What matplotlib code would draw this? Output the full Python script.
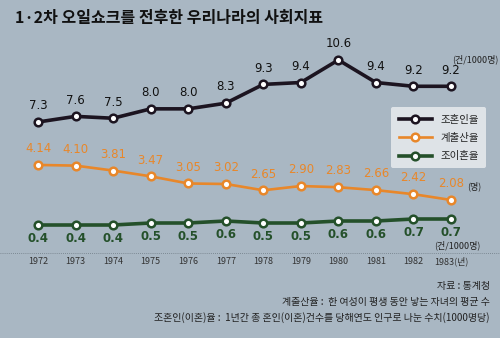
import matplotlib.pyplot as plt

plt.rcParams['font.family'] = ['Noto Sans CJK KR', 'DejaVu Sans']

years = [1972, 1973, 1974, 1975, 1976, 1977, 1978, 1979, 1980, 1981, 1982, 1983]
year_labels = ['1972', '1973', '1974', '1975', '1976', '1977', '1978', '1979',
               '1980', '1981', '1982', '1983(년)']
marriage = [7.3, 7.6, 7.5, 8.0, 8.0, 8.3, 9.3, 9.4, 10.6, 9.4, 9.2, 9.2]
fertility = [4.14, 4.10, 3.81, 3.47, 3.05, 3.02, 2.65, 2.90, 2.83, 2.66, 2.42, 2.08]
divorce = [0.4, 0.4, 0.4, 0.5, 0.5, 0.6, 0.5, 0.5, 0.6, 0.6, 0.7, 0.7]

bg = '#a9b7c3'
c_black = '#1c1420'
c_orange = '#e8872a'
c_green = '#24502a'

fig = plt.figure(figsize=(5, 3.38), dpi=100)
fig.patch.set_facecolor(bg)

rect = [20 / 500, (338 - 235) / 338, 450 / 500, 185 / 338]
xlim = (1971.52, 1983.506)

series = [
    (marriage, c_black, (1.29, 11.13), 2.6, 'above', '{:.1f}'),
    (fertility, c_orange, (0.02, 10.9), 1.9, 'above', '{:.2f}'),
    (divorce, c_green, (-0.1, 9.15), 2.6, 'below', '{:.1f}'),
]
labels = ['조혼인율', '계출산율', '조이혼율']

handles = []
for i, (vals, col, ylim, lw, pos, fmt) in enumerate(series):
    ax = fig.add_axes(rect, label=f's{i}')
    ax.set_xlim(*xlim)
    ax.set_ylim(*ylim)
    ax.axis('off')
    ax.patch.set_alpha(0)
    ln, = ax.plot(years, vals, color=col, lw=lw, marker='o', ms=5.5,
                  mfc='white', mec=col, mew=1.8, zorder=3)
    handles.append(ln)
    for x, v in zip(years, vals):
        if pos == 'above':
            ax.annotate(fmt.format(v), (x, v), xytext=(0, 7), textcoords='offset points',
                        ha='center', va='bottom', fontsize=8.5,
                        color=col if col != c_black else '#111111',
                        family=['DejaVu Sans'])
        else:
            ax.annotate(fmt.format(v), (x, v), xytext=(0, -5), textcoords='offset points',
                        ha='center', va='top', fontsize=8.5, color=col,
                        family=['DejaVu Sans'], fontweight='semibold')

# year axis labels and dotted separator
fig.add_artist(plt.Line2D([0.0, 1.0], [1 - 253 / 338] * 2, color='#6e7a84',
                          lw=0.6, ls=(0, (1, 1.5))))
axx = fig.add_axes(rect, label='years')
axx.set_xlim(*xlim)
axx.axis('off')
for x, lab in zip(years, year_labels):
    axx.text(x, -0.145, lab, transform=axx.get_xaxis_transform(), ha='center',
             va='center', fontsize=6.5, color='#333333')

fig.text(15 / 500, 1 - 18 / 338, '1·2차 오일쇼크를 전후한 우리나라의 사회지표',
         fontsize=11.5, fontweight='bold', color='#111111', va='center')

fig.text(475 / 500, 1 - 59 / 338, '(건/1000명)', fontsize=6.5, color='#222222',
         ha='center', va='center')
fig.text(467 / 500, 1 - 186 / 338, '(명)', fontsize=6.5, color='#222222',
         ha='left', va='center')
fig.text(457 / 500, 1 - 245 / 338, '(건/1000명)', fontsize=6.5, color='#222222',
         ha='center', va='center')

leg = fig.legend(handles, labels, loc='upper left',
                 bbox_to_anchor=(386 / 500, 1 - 102 / 338), fontsize=7.5,
                 frameon=True, facecolor='#e4e8ec', edgecolor='none',
                 framealpha=0.9, handlelength=3.2, labelspacing=0.8,
                 borderpad=0.7, fancybox=True)
for t in leg.get_texts():
    t.set_color('#222222')

fig.text(490 / 500, 1 - 286 / 338, '자료 : 통계청', fontsize=7.2,
         color='#222222', ha='right', va='center')
fig.text(490 / 500, 1 - 302 / 338, '계출산율 :  한 여성이 평생 동안 낳는 자녀의 평균 수',
         fontsize=7.2, color='#222222', ha='right', va='center')
fig.text(490 / 500, 1 - 318 / 338,
         '조혼인(이혼)율 :  1년간 총 혼인(이혼)건수를 당해연도 인구로 나눈 수치(1000명당)',
         fontsize=7.2, color='#222222', ha='right', va='center')

fig.savefig('out.png', dpi=100, facecolor=bg)
